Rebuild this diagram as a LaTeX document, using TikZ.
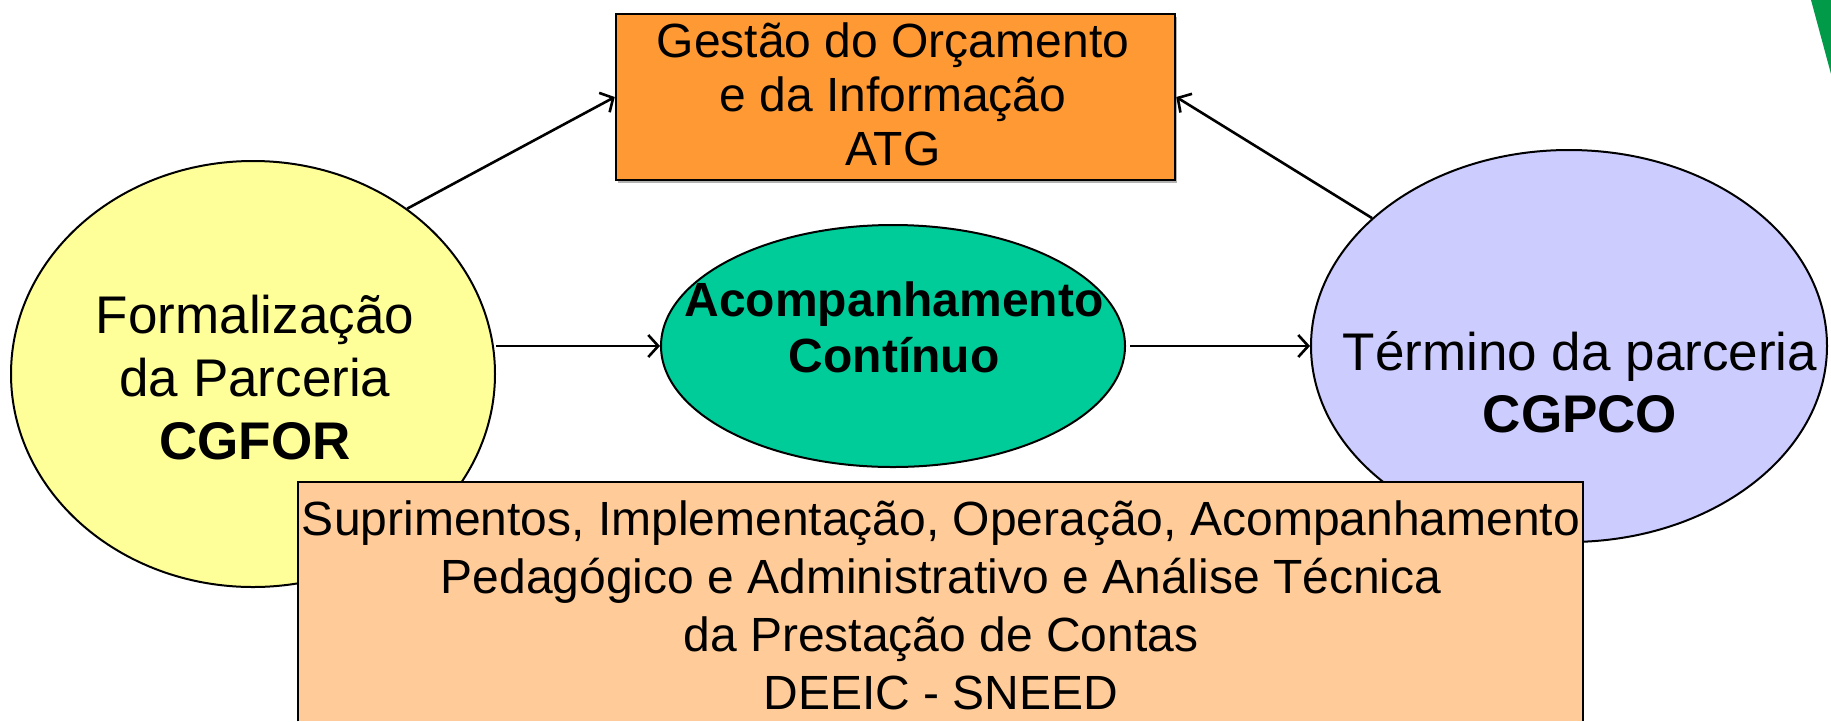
\documentclass[tikz,border=0pt]{standalone}
\usepackage{fontspec}
\setmainfont{Liberation Sans}
\usetikzlibrary{shapes.geometric,arrows.meta,shadows}
\definecolor{yelfill}{HTML}{FFFF99}
\definecolor{orgfill}{HTML}{FF9933}
\definecolor{grnfill}{HTML}{00CC99}
\definecolor{lavfill}{HTML}{CCCCFF}
\definecolor{peach}{HTML}{FFCC99}
\definecolor{cornergreen}{HTML}{009A48}
\begin{document}
\begin{tikzpicture}[x=1pt,y=-1pt,
  oval/.style={ellipse, draw=black, line width=2pt, inner sep=0pt},
  txt/.style={align=center, inner sep=0pt, anchor=base},
  arr/.style={line width=2.6pt, -{Straight Barb[length=10pt,width=22pt]}},
]
\useasboundingbox (0,0) rectangle (1831,721);
\fill[white] (0,0) rectangle (1831,721);
\fill[cornergreen] (1811,0) -- (1831,0) -- (1831,74) -- cycle;

% shapes
\node[oval, fill=yelfill, minimum width=484, minimum height=426] (yel) at (253,374) {};
\node[oval, fill=grnfill, minimum width=464, minimum height=242] (grn) at (893,346) {};
\node[oval, fill=lavfill, minimum width=516, minimum height=392] (lav) at (1569,346) {};
\node[rectangle, draw=black, line width=2.5pt, fill=orgfill, inner sep=0pt,
      minimum width=559, minimum height=166,
      drop shadow={shadow xshift=2pt, shadow yshift=-3pt, fill=gray!60, opacity=1}] (org) at (895.5,97) {};

% bottom box
\node[rectangle, fill=peach, inner sep=0pt, anchor=north west,
      minimum width=1285, minimum height=239] (bot) at (298,482) {};
\draw[line width=2pt] (bot.south west) -- (bot.north west) -- (bot.north east) -- (bot.south east);

% connectors
\draw[arr] (yel.47.5) -- (org.west);
\draw[arr] (lav.147) -- (org.east);
\draw[arr] (yel.east |- grn.west) -- (grn.west);
\draw[arr] ([xshift=4pt]grn.east) -- (lav.west);

% texts (anchor=base is the baseline of the last line)
\node[txt, font=\fontsize{53}{63}\selectfont] (yeltxt) at (255,459)
  {Formalização\\da Parceria\\\textbf{CGFOR}};
\node[txt, font=\fontsize{48}{56}\selectfont\bfseries] (grntxt) at (894,372)
  {Acompanhamento\\Contínuo};
\node[txt, font=\fontsize{53}{62}\selectfont] (lavtxt) at (1580,432)
  {Término da parceria\\\textbf{CGPCO}};
\node[txt, font=\fontsize{48}{54}\selectfont] (orgtxt) at (893,165)
  {Gestão do Orçamento\\e da Informação\\ATG};
\node[txt, font=\fontsize{48}{58}\selectfont] (bottxt) at (941,709)
  {Suprimentos, Implementação, Operação, Acompanhamento\\Pedagógico e Administrativo e Análise Técnica\\da Prestação de Contas\\DEEIC - SNEED};
\end{tikzpicture}
\end{document}
